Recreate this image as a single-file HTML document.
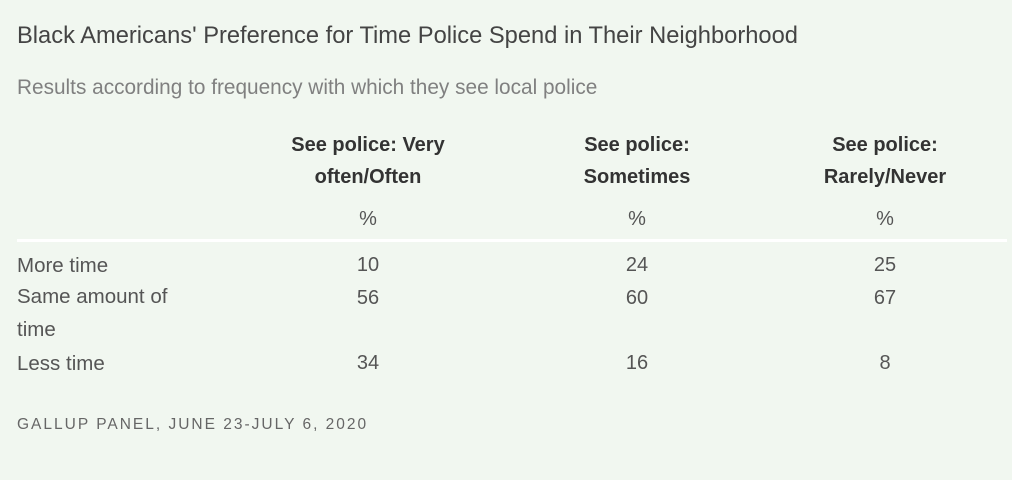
<!DOCTYPE html>
<html><head><meta charset="utf-8"><style>
body{margin:0;width:1012px;height:480px;background:#f1f7f0;font-family:"Liberation Sans",sans-serif;position:relative;overflow:hidden}
.a{position:absolute;white-space:nowrap}
.c{position:absolute;transform:translateX(-50%);text-align:center;white-space:nowrap}
.t{left:17px;top:23px;font-size:23.7px;color:#444}
.s{left:17px;top:76px;font-size:20.8px;color:#808080}
.h{font-size:20px;font-weight:bold;color:#333;line-height:32px}
.v{font-size:20px;color:#555}
.r{left:17px;font-size:20.5px;color:#555}
.f{left:17px;top:416px;font-size:15.5px;letter-spacing:2px;color:#666}
</style></head><body>
<div class="a t">Black Americans' Preference for Time Police Spend in Their Neighborhood</div>
<div class="a s">Results according to frequency with which they see local police</div>
<div class="c h" style="left:368px;top:129px">See police: Very<br>often/Often</div>
<div class="c h" style="left:637px;top:129px">See police:<br>Sometimes</div>
<div class="c h" style="left:885px;top:129px">See police:<br>Rarely/Never</div>
<div class="c v" style="left:368px;top:208px">%</div>
<div class="c v" style="left:637px;top:208px">%</div>
<div class="c v" style="left:885px;top:208px">%</div>
<div class="a" style="left:17px;top:239px;width:990px;height:3px;background:#fff"></div>
<div class="a r" style="top:254px">More time</div>
<div class="a r" style="top:287px;line-height:33px;margin-top:-7px">Same amount of<br>time</div>
<div class="a r" style="top:352px">Less time</div>
<div class="c v" style="left:368px;top:254px">10</div>
<div class="c v" style="left:637px;top:254px">24</div>
<div class="c v" style="left:885px;top:254px">25</div>
<div class="c v" style="left:368px;top:287px">56</div>
<div class="c v" style="left:637px;top:287px">60</div>
<div class="c v" style="left:885px;top:287px">67</div>
<div class="c v" style="left:368px;top:352px">34</div>
<div class="c v" style="left:637px;top:352px">16</div>
<div class="c v" style="left:885px;top:352px">8</div>
<div class="a f">GALLUP PANEL, JUNE 23-JULY 6, 2020</div>
</body></html>
